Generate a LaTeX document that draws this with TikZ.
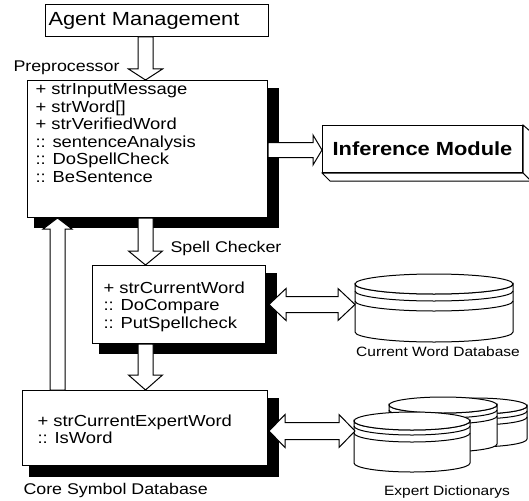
\documentclass[tikz,border=0pt]{standalone}
\usepackage{fontspec}
\setmainfont{Liberation Sans}[FakeStretch=1.15]
\usetikzlibrary{calc}

\newcommand{\attrfont}{\fontsize{16}{17.6}\selectfont}
\newcommand{\lblfont}{\fontsize{15.5}{18}\selectfont}
\newcommand{\dblblfont}{\fontsize{13.5}{16}\selectfont}

% hollow block arrow: start, end, half shaft, half head, head length
\newcommand{\blockarr}[5]{%
  \coordinate (hb) at ($(#2)!#5!(#1)$);
  \draw[blockarrow] ($(#1)!#3!90:(#2)$) -- ($(hb)!#3!90:(#2)$) -- ($(hb)!#4!90:(#2)$)
    -- (#2) -- ($(hb)!#4!-90:(#2)$) -- ($(hb)!#3!-90:(#2)$) -- ($(#1)!#3!-90:(#2)$) -- cycle;}
% hollow double arrow
\newcommand{\dblarr}[5]{%
  \coordinate (hba) at ($(#1)!#5!(#2)$);
  \coordinate (hbb) at ($(#2)!#5!(#1)$);
  \draw[blockarrow] (#1) -- ($(hba)!#4!90:(#2)$) -- ($(hba)!#3!90:(#2)$)
    -- ($(hbb)!#3!-90:(#1)$) -- ($(hbb)!#4!-90:(#1)$) -- (#2)
    -- ($(hbb)!#4!90:(#1)$) -- ($(hbb)!#3!90:(#1)$)
    -- ($(hba)!#3!-90:(#2)$) -- ($(hba)!#4!-90:(#2)$) -- cycle;}
% database cylinder: cx, top, rx, ry, bottom, band 1, band 2
\newcommand{\dbcyl}[7]{%
  \draw[dbline] (#1-#3,#2) -- (#1-#3,#5) arc[start angle=180,end angle=0,x radius=#3,y radius=#4]
    -- (#1+#3,#2) arc[start angle=0,end angle=180,x radius=#3,y radius=#4] -- cycle;
  \draw[dbline] (#1,#2) ellipse[x radius=#3,y radius=#4];
  \draw (#1-#3,#2+#6) arc[start angle=180,end angle=0,x radius=#3,y radius=#4];
  \draw (#1-#3,#2+#7) arc[start angle=180,end angle=0,x radius=#3,y radius=#4];}

\begin{document}
\begin{tikzpicture}
  [x=1pt,y=-1pt,line width=1pt,
   umlbox/.style={draw,fill=white,anchor=north west,inner sep=0pt},
   attr/.style={font=\attrfont,align=left,anchor=north west,inner sep=0pt},
   lbl/.style={font=\lblfont,inner sep=0pt},
   dblbl/.style={font=\dblblfont,inner sep=0pt},
   blockarrow/.style={draw,fill=white,line join=miter},
   dbline/.style={draw,fill=white}]
  \useasboundingbox (0,0) rectangle (529,500);

  % shadows of the classes
  \fill[black] (34,88) rectangle (279,228);
  \fill[black] (99,273) rectangle (277,354);
  \fill[black] (29,398) rectangle (279,477);

  % classes
  \node[umlbox,minimum height=32pt,text width=217pt,inner xsep=3pt,align=left,
        font=\fontsize{19}{22}\selectfont] (agent) at (45,4) {Agent Management};
  \node[umlbox,minimum width=240pt,minimum height=137pt] (pre) at (27,80) {};
  \node[umlbox,minimum width=173pt,minimum height=78pt] (spell) at (92,265) {};
  \node[umlbox,minimum width=245pt,minimum height=75pt] (core) at (22,390) {};

  \node[umlbox,minimum width=200pt,minimum height=47pt,
        font=\fontsize{19}{22}\selectfont\bfseries] (inf) at (322,125) {Inference Module};
  \draw[fill=white] (inf.north east) -- ++(8,7) -- ([shift={(8,8)}]inf.south east) -- (inf.south east) -- cycle;
  \draw[fill=white] (inf.south west) -- ++(8,8) -- ([shift={(8,8)}]inf.south east) -- (inf.south east) -- cycle;

  \node[attr] (pretxt) at (35,83) {+ strInputMessage\\+ strWord[]\\+ strVerifiedWord\\:: sentenceAnalysis\\:: DoSpellCheck\\:: BeSentence};
  \node[attr] (spelltxt) at (103,281) {+ strCurrentWord\\:: DoCompare\\:: PutSpellcheck};
  \node[attr] (coretxt) at (37,414) {+ strCurrentExpertWord\\:: IsWord};

  \node[lbl,anchor=west] (prelbl) at (13,68) {Preprocessor};
  \node[lbl,anchor=west] (spelllbl) at (170,248) {Spell Checker};
  \node[lbl,anchor=west] (corelbl) at (23,490) {Core Symbol Database};

  % databases
  \dbcyl{434}{284}{79}{10}{332}{7}{17}
  \node[dblbl] (cwdblbl) at (438,352) {Current Word Database};
  \dbcyl{475}{406}{52}{8}{439}{5}{11}
  \dbcyl{443}{405}{54}{8}{444}{5}{11}
  \dbcyl{412}{421}{58}{9}{463}{5}{12}
  \node[dblbl] (explbl) at (447,492) {Expert Dictionarys};

  % arrows
  \coordinate (a1s) at (145.5,0 |- agent.south);
  \coordinate (a1e) at (145.5,0 |- pre.north);
  \coordinate (a2s) at (145.5,0 |- pre.south);
  \coordinate (a2e) at (145.5,0 |- spell.north);
  \coordinate (a3s) at (145.5,0 |- spell.south);
  \coordinate (a3e) at (145.5,0 |- core.north);
  \coordinate (a4s) at (57.5,0 |- core.north);
  \coordinate (a4e) at (57.5,0 |- pre.south);
  \coordinate (a5s) at ([yshift=-1pt]pre.east);
  \coordinate (a5e) at (inf.west |- a5s);
  \coordinate (cwdbw) at ([xshift=3pt]spell.east);
  \coordinate (cwdbe) at (355,0 |- cwdbw);
  \coordinate (expw) at ([shift={(1,3)}]core.east);
  \coordinate (expe) at (355,0 |- expw);

  \blockarr{a1s}{a1e}{7.5pt}{17pt}{11pt}
  \blockarr{a2s}{a2e}{7.5pt}{17pt}{14pt}
  \blockarr{a3s}{a3e}{7.5pt}{17pt}{15pt}
  \blockarr{a4s}{a4e}{7.5pt}{14.5pt}{11pt}
  \blockarr{a5s}{a5e}{7.5pt}{15pt}{9pt}
  \dblarr{cwdbw}{cwdbe}{8pt}{16pt}{17pt}
  \dblarr{expw}{expe}{8.5pt}{16.5pt}{16pt}
\end{tikzpicture}
\end{document}
